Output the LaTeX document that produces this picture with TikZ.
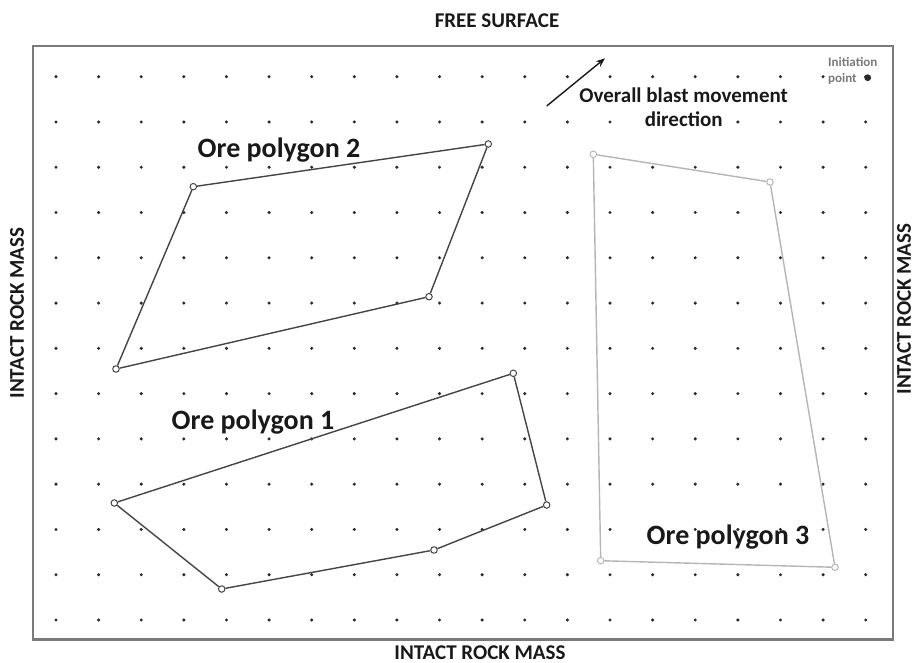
\documentclass[tikz,border=0pt]{standalone}
\usepackage{fontspec}
\setmainfont{Carlito}
\usetikzlibrary{arrows.meta}
\definecolor{framegray}{HTML}{7A7A7A}
\definecolor{polydark}{HTML}{444444}
\definecolor{polylight}{HTML}{B5B5B5}
\definecolor{dotcol}{HTML}{2A2A2A}
\tikzset{
  vtx/.style={circle, draw=polydark, fill=white, line width=1pt, inner sep=0pt, minimum size=6.5pt},
  vtxlight/.style={circle, draw=polylight, fill=white, line width=1pt, inner sep=0pt, minimum size=6.5pt},
  polyline/.style={draw=polydark, line width=1.4pt},
  polylinelight/.style={draw=polylight, line width=1.4pt},
  sidelabel/.style={font=\fontsize{21}{24}\selectfont\bfseries, text=black!90, inner sep=0pt},
  polylabel/.style={font=\fontsize{28}{32}\selectfont\bfseries, text=black!90, inner sep=0pt},
  notelabel/.style={font=\fontsize{21}{24}\selectfont\bfseries, text=black!90, inner sep=1pt},
}
\begin{document}
\begin{tikzpicture}[x=1pt, y=-1pt]
\useasboundingbox (0,0) rectangle (914,663);
% frame
\draw[framegray, line width=2.4pt] (32.7,46) rectangle (893,639.5);
% grid of dots
\foreach \i in {0,...,19}{
  \foreach \j in {0,...,12}{
    \fill[dotcol] ({56+42.616*\i},{76.7+45.275*\j}) circle (1.7pt);
  }
}
% outer labels
\node[sidelabel] (free) at (497,21) {FREE SURFACE};
\node[sidelabel] (bottom) at (480,652.5) {INTACT ROCK MASS};
\node[sidelabel, rotate=90] (left) at (17,313) {INTACT ROCK MASS};
\node[sidelabel, rotate=90] (right) at (904,309) {INTACT ROCK MASS};
% initiation point
\fill[dotcol] (867.7,77.7) circle (3.4pt);
\node[font=\fontsize{13}{16}\selectfont\bfseries, text=framegray, align=left, anchor=west, inner sep=0pt] (init) at (828,70.5) {Initiation\\point};
% blast direction
\coordinate (arrS) at (546.7,106);
\coordinate (arrE) at (605,58.3);
\draw[line width=1.4pt, black!90, -{Stealth[length=9pt, width=7pt]}] (arrS) -- (arrE);
\node[notelabel] (blast1) at (683.7,95) {Overall blast movement};
\node[notelabel, fill=white] (blast2) at (683.7,119.5) {direction};
% polygon 2
\node[vtx] (p2a) at (193.3,186.7) {};
\node[vtx] (p2b) at (488.3,144) {};
\node[vtx] (p2c) at (429,296.7) {};
\node[vtx] (p2d) at (116,369) {};
\draw[polyline] (p2a) -- (p2b) -- (p2c) -- (p2d) -- (p2a);
\node[polylabel] (l2) at (279,150) {Ore polygon 2};
% polygon 1
\node[vtx] (p1a) at (114.3,503) {};
\node[vtx] (p1b) at (513.3,373.3) {};
\node[vtx] (p1c) at (546.7,505) {};
\node[vtx] (p1d) at (434,550) {};
\node[vtx] (p1e) at (221.7,589) {};
\draw[polyline] (p1a) -- (p1b) -- (p1c) -- (p1d) -- (p1e) -- (p1a);
\node[polylabel] (l1) at (253,421.7) {Ore polygon 1};
% polygon 3
\node[vtxlight] (p3a) at (593.3,154.3) {};
\node[vtxlight] (p3b) at (770,182) {};
\node[vtxlight] (p3c) at (835,567.3) {};
\node[vtxlight] (p3d) at (600.7,560.7) {};
\draw[polylinelight] (p3a) -- (p3b) -- (p3c) -- (p3d) -- (p3a);
\node[polylabel] (l3) at (728,537) {Ore polygon 3};
\end{tikzpicture}
\end{document}
